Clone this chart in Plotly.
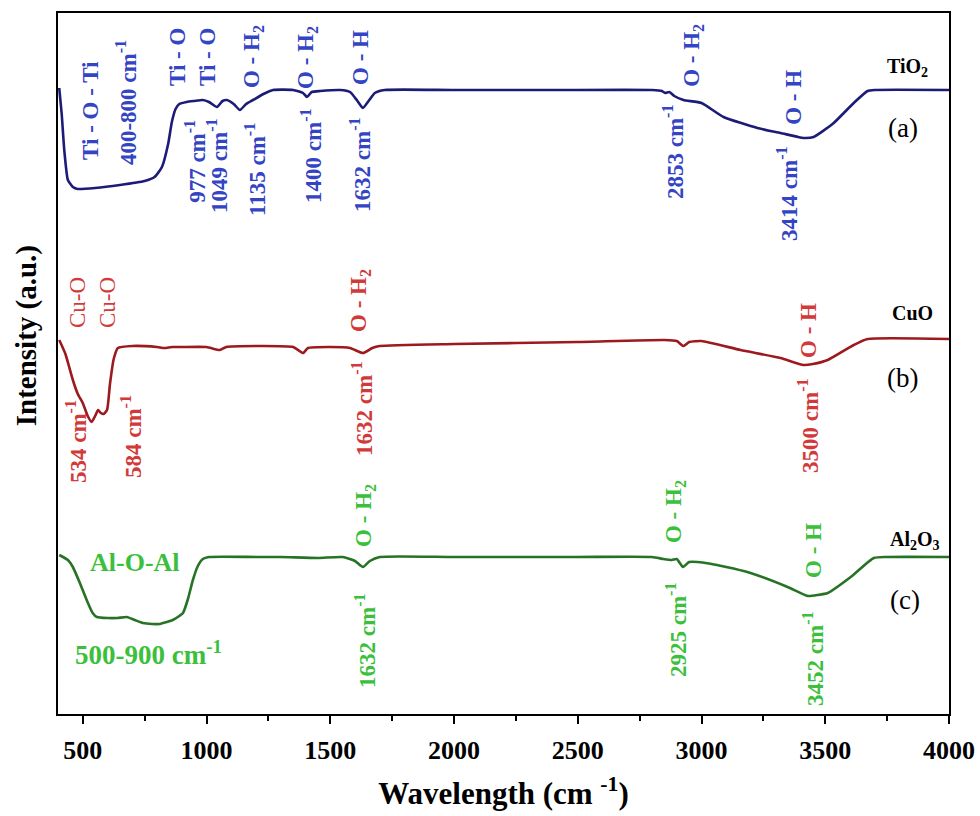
import plotly.graph_objects as go

# ---------------- data (wavenumber in cm^-1, intensity in a.u.) ----------------
tio2_wn = [405,415,425,440,460,480,550,650,750,790,820,845,860,875,890,920,950,985,1010,1042,
           1065,1082,1110,1135,1160,1188,1230,1269,1350,1390,1406,1425,1459,1540,1580,1610,1632,1655,1680,1720,
           2000,2400,2800,2840,2853,2870,2890,2927,3000,3089,3226,3319,3390,3414,3453,3534,3615,3671,3700,4000]
tio2_int = [626,600,565,534,527,525,526,529,533,537,547,570,592,605,610,612,613,614,612,607,
            613,614,610,604,610,614,620,624,624,621,617,622,623,624,622,613,606,613,621,624,
            624,624,624,623,621,622,618,614,611,597,586,581,577,576,577,591,611,623,624,624]

cuo_wn = [405,430,460,480,500,520,536,550,562,573,584,598,610,625,642,700,800,830,860,900,
          1000,1054,1080,1200,1350,1390,1410,1500,1580,1632,1670,1700,2000,2500,2850,2900,2927,2950,3000,3158,
          3319,3412,3450,3510,3615,3671,4000]
cuo_int = [374,360,334,320,311,298,292,298,304,301,300,304,330,355,366,368,367,366,367,367,
           367,364,367,368,367,361,366,367,366,361,366,368,370,372,374,373,368,372,373,364,
           356,349,350,354,369,375,375]

al2o3_wn = [405,440,460,490,516,540,557,600,640,678,710,743,780,812,840,864,890,905,925,945,
            965,985,1010,1200,1300,1450,1550,1600,1632,1660,1700,2000,2500,2800,2846,2880,2900,2925,2950,2984,
            3100,3198,3348,3429,3470,3510,3603,3696,3750,4000]
al2o3_int = [159,154,147,130,114,101,97,96,96,97,94,91,90,90,92,94,98,101,115,134,
             148,155,157,157,157,156,157,153,147,153,157,157,157,157,155,154,155,147,152,152,
             147,141,127,118,119,121,137,156,157,157]

x_ticks = [500, 1000, 1500, 2000, 2500, 3000, 3500, 4000]

FONT = "Liberation Serif"
NAVY, DARKRED, DKGREEN = "#1c1c78", "#9c1a1e", "#267326"
BLUE, RED, GREEN = "#3344c4", "#d23a3a", "#3cbf3c"

fig = go.Figure()
for wn, it, col in [(tio2_wn, tio2_int, NAVY), (cuo_wn, cuo_int, DARKRED), (al2o3_wn, al2o3_int, DKGREEN)]:
    fig.add_trace(go.Scatter(x=wn, y=it, mode="lines",
                             line=dict(color=col, width=2.6, shape="spline", smoothing=0.5),
                             showlegend=False, hoverinfo="skip"))

CM = " cm<sup>-1</sup>"
# (text, x, y, color, angle, size, bold)
labels = [
    ("Ti - O - Ti", 529, 604, BLUE, -90, 23, True),
    ("400-800" + CM, 675, 611, BLUE, -90, 23, True),
    ("Ti - O", 881, 657, BLUE, -90, 23, True),
    ("Ti - O", 1002, 657, BLUE, -90, 23, True),
    ("977" + CM, 953, 553, BLUE, -90, 23, True),
    ("1049" + CM, 1042, 549, BLUE, -90, 23, True),
    ("O - H<sub>2</sub>", 1188, 657, BLUE, -90, 23, True),
    ("1135" + CM, 1196, 544, BLUE, -90, 23, True),
    ("O - H<sub>2</sub>", 1406, 657, BLUE, -90, 23, True),
    ("1400" + CM, 1422, 559, BLUE, -90, 23, True),
    ("O - H", 1620, 657, BLUE, -90, 23, True),
    ("1632" + CM, 1620, 550, BLUE, -90, 23, True),
    ("O - H<sub>2</sub>", 2965, 659, BLUE, -90, 23, True),
    ("2853" + CM, 2885, 562, BLUE, -90, 23, True),
    ("O - H", 3369, 617, BLUE, -90, 23, True),
    ("3414" + CM, 3345, 521, BLUE, -90, 23, True),
    ("Cu-O", 477, 411, RED, -90, 23, False),
    ("Cu-O", 598, 411, RED, -90, 23, False),
    ("534" + CM, 473, 272, RED, -90, 23, True),
    ("584" + CM, 695, 277, RED, -90, 23, True),
    ("O - H<sub>2</sub>", 1620, 414, RED, -90, 23, True),
    ("1632" + CM, 1628, 306, RED, -90, 23, True),
    ("O - H", 3430, 384, RED, -90, 23, True),
    ("3500" + CM, 3430, 289, RED, -90, 23, True),
    ("Al-O-Al", 711, 152, GREEN, 0, 26, True),
    ("500-900 cm<sup>-1</sup>", 764, 61, GREEN, 0, 27, True),
    ("O - H<sub>2</sub>", 1640, 199, GREEN, -90, 23, True),
    ("1632" + CM, 1640, 74, GREEN, -90, 23, True),
    ("O - H<sub>2</sub>", 2893, 202, GREEN, -90, 23, True),
    ("2925" + CM, 2897, 84, GREEN, -90, 23, True),
    ("O - H", 3450, 164, GREEN, -90, 23, True),
    ("3452" + CM, 3450, 56, GREEN, -90, 23, True),
    ("TiO<sub>2</sub>", 3834, 647, "black", 0, 20, True),
    ("(a)", 3814, 586, "black", 0, 27, False),
    ("CuO", 3854, 401, "black", 0, 20, True),
    ("(b)", 3814, 336, "black", 0, 27, False),
    ("Al<sub>2</sub>O<sub>3</sub>", 3862, 174, "black", 0, 20, True),
    ("(c)", 3822, 114, "black", 0, 27, False),
]
for text, x, y, col, ang, size, bold in labels:
    fig.add_annotation(x=x, y=y, xref="x", yref="y",
                       text=f"<b>{text}</b>" if bold else text,
                       textangle=ang, showarrow=False, xanchor="center", yanchor="middle",
                       font=dict(family=FONT, size=size, color=col))

# y-axis title (placed slightly above centre, as in the reference)
fig.add_annotation(x=-0.035, y=0.54, xref="paper", yref="paper", text="<b>Intensity (a.u.)</b>",
                   textangle=-90, showarrow=False, xanchor="center", yanchor="middle",
                   font=dict(family=FONT, size=29, color="black"))

fig.update_layout(
    width=980, height=816,
    margin=dict(l=58, r=31, t=13, b=102, autoexpand=False),
    paper_bgcolor="white", plot_bgcolor="white",
    font=dict(family=FONT, color="black"),
    xaxis=dict(range=[400, 4000], tickvals=x_ticks, ticks="outside", ticklen=8, tickwidth=1.5,
               tickcolor="black", showgrid=False, zeroline=False, automargin=False,
               showline=True, linecolor="black", linewidth=2, mirror=True,
               ticklabelstandoff=4,
               tickfont=dict(family=FONT, size=26, color="black", weight="bold"),
               minor=dict(dtick=250, tick0=500, ticks="outside", ticklen=5, tickcolor="black", tickwidth=1.5),
               title=dict(text="<b>Wavelength (cm <sup>-1</sup>)</b>", standoff=18,
                          font=dict(family=FONT, size=31, color="black"))),
    yaxis=dict(range=[0, 701], showticklabels=False, ticks="", showgrid=False, zeroline=False,
               automargin=False,
               showline=True, linecolor="black", linewidth=2, mirror=True),
)

fig.write_html("out.html")
